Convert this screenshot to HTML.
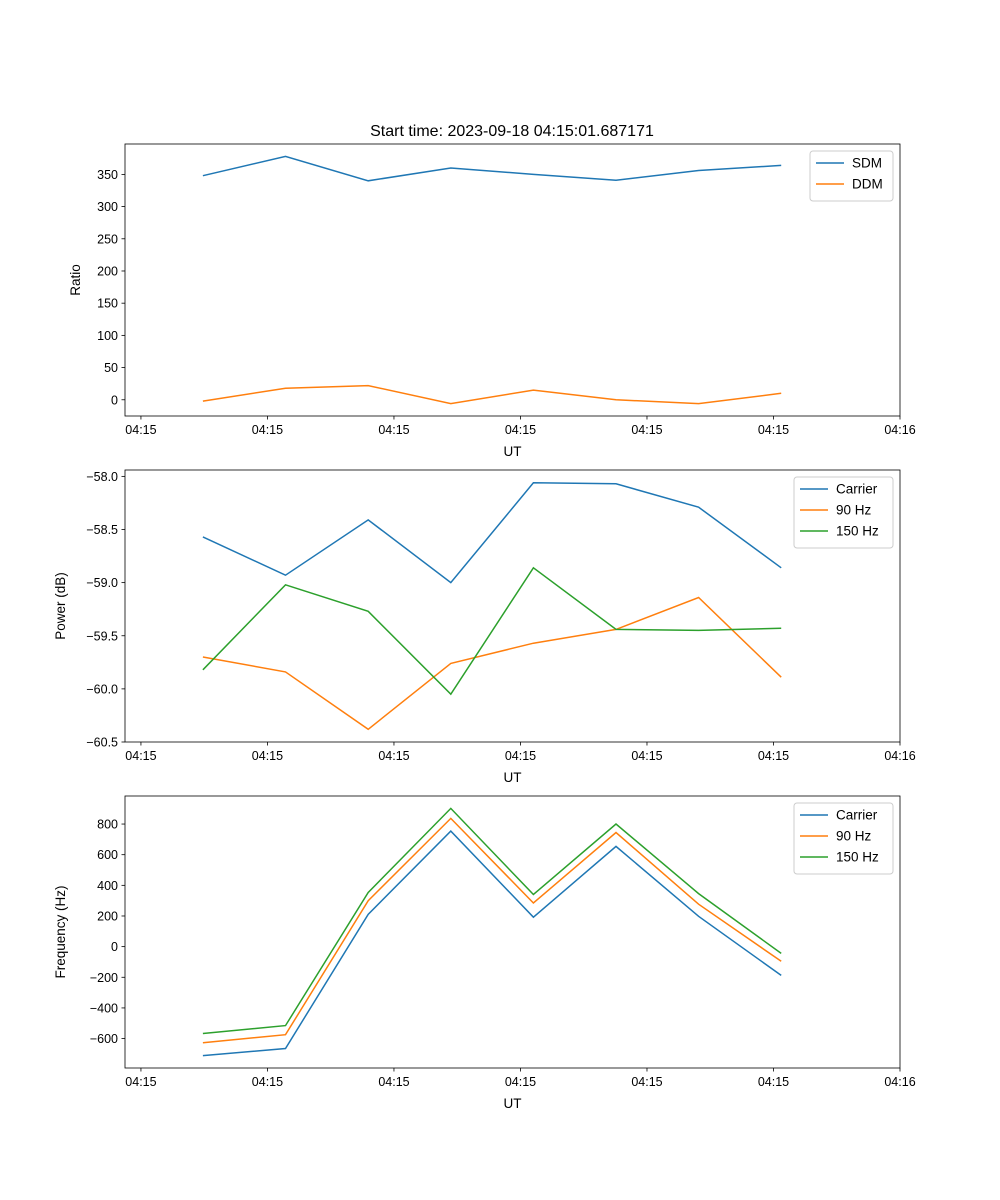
<!DOCTYPE html>
<html><head><meta charset="utf-8"><style>
body{margin:0;background:#fff;}
svg{display:block;font-family:"Liberation Sans","DejaVu Sans",sans-serif;}
</style></head><body>
<svg id="fig" width="1000" height="1200" viewBox="0 0 1000 1200" xmlns="http://www.w3.org/2000/svg">
<rect width="1000" height="1200" fill="#fff"/>
<text x="512" y="136" font-size="16" text-anchor="middle">Start time: 2023-09-18 04:15:01.687171</text>
</svg>
<script>
// shared x data (seconds after 04:15:00)
const times = [4.9, 11.43, 17.96, 24.49, 31.02, 37.55, 44.08, 50.61];
const xTicks = [0, 10, 20, 30, 40, 50, 60];
const xTickLabels = ["04:15","04:15","04:15","04:15","04:15","04:15","04:16"];
// panel 1
const sdm = [348, 378, 340, 360, 350, 341, 356, 364];
const ddm = [-2, 18, 22, -6, 15, 0, -6, 10];
const ratioTicks = [0, 50, 100, 150, 200, 250, 300, 350];
// panel 2
const powCarrier = [-58.57, -58.93, -58.41, -59.0, -58.06, -58.07, -58.29, -58.86];
const pow90 = [-59.70, -59.84, -60.38, -59.76, -59.57, -59.44, -59.14, -59.89];
const pow150 = [-59.82, -59.02, -59.27, -60.05, -58.86, -59.44, -59.45, -59.43];
const powTicks = [-58.0, -58.5, -59.0, -59.5, -60.0, -60.5];
const powTickLabels = ["\u221258.0","\u221258.5","\u221259.0","\u221259.5","\u221260.0","\u221260.5"];
// panel 3
const freqCarrier = [-711, -665, 211, 754, 192, 654, 198, -188];
const freq90 = [-627, -575, 300, 837, 285, 745, 277, -96];
const freq150 = [-567, -515, 353, 902, 340, 800, 346, -44];
const freqTicks = [-600, -400, -200, 0, 200, 400, 600, 800];
const freqTickLabels = ["\u2212600","\u2212400","\u2212200","0","200","400","600","800"];

const NS = "http://www.w3.org/2000/svg";
const svg = document.getElementById('fig');
function mk(tag, attrs, parent){const e=document.createElementNS(NS,tag);for(const k in attrs)e.setAttribute(k,attrs[k]);(parent||svg).appendChild(e);return e;}
const L=125,R=900,xMin=-1.26,xMax=60;
function X(t){return L+(t-xMin)/(xMax-xMin)*(R-L);}

function panel(name, top, bottom, yMin, yMax, yTicks, yLabels, yTitle, series, legendW){
  const g=mk('g',{});
  
  
  const Y=v=>bottom-(v-yMin)/(yMax-yMin)*(bottom-top);
  series.forEach(s=>{
    const pts=s.vals.map((v,i)=>X(times[i]).toFixed(1)+','+Y(v).toFixed(1)).join(' ');
    const pl=mk('polyline',{points:pts,fill:'none',stroke:s.color,'stroke-width':1.5},g);
    
    
  });
  mk('rect',{x:L,y:top,width:R-L,height:bottom-top,fill:'none',stroke:'#000','stroke-width':0.8},g);
  xTicks.forEach((t,i)=>{
    const x=X(t);
    mk('line',{x1:x,y1:bottom,x2:x,y2:bottom+3.5,stroke:'#000','stroke-width':0.8},g);
    const tx=mk('text',{x:x,y:bottom+18,'font-size':12.5,'text-anchor':'middle'},g);
    tx.textContent=xTickLabels[i];
    
    
  });
  const xt=mk('text',{x:(L+R)/2,y:bottom+40,'font-size':13.5,'text-anchor':'middle'},g);
  xt.textContent='UT';
  
  
  yTicks.forEach((v,i)=>{
    const y=Y(v);
    mk('line',{x1:L-3.5,y1:y,x2:L,y2:y,stroke:'#000','stroke-width':0.8},g);
    const tx=mk('text',{x:L-7,y:y+4.5,'font-size':12.5,'text-anchor':'end'},g);
    tx.textContent=yLabels[i];
    
    
  });
  const yx = name==='ratio'?80:65;
  const yt=mk('text',{x:yx,y:(top+bottom)/2,'font-size':13.5,'text-anchor':'middle',transform:`rotate(-90 ${yx} ${(top+bottom)/2})`},g);
  yt.textContent=yTitle;
  
  
  // legend
  const lw=legendW, lh=8+series.length*21, lx=R-7-lw, ly=top+7;
  const lg=mk('g',{},g);
  
  
  mk('rect',{x:lx,y:ly,width:lw,height:lh,rx:3,fill:'#fff','fill-opacity':0.8,stroke:'#ccc','stroke-width':1},lg);
  series.forEach((s,i)=>{
    const cy=ly+12+i*21;
    mk('line',{x1:lx+6,y1:cy,x2:lx+34,y2:cy,stroke:s.color,'stroke-width':1.5},lg);
    const tx=mk('text',{x:lx+42,y:cy+4.5,'font-size':13.5},lg);
    tx.textContent=s.label;
    
    
  });
}
const C1='#1f77b4',C2='#ff7f0e',C3='#2ca02c';
panel('ratio',144,416,-25.2,397.2,ratioTicks,ratioTicks.map(String),'Ratio',
  [{key:'sdm',label:'SDM',vals:sdm,color:C1},{key:'ddm',label:'DDM',vals:ddm,color:C2}],83);
panel('power',470,742,-60.5,-57.94,powTicks,powTickLabels,'Power (dB)',
  [{key:'carrier',label:'Carrier',vals:powCarrier,color:C1},{key:'90hz',label:'90 Hz',vals:pow90,color:C2},{key:'150hz',label:'150 Hz',vals:pow150,color:C3}],99);
panel('frequency',796,1068,-792,983,freqTicks,freqTickLabels,'Frequency (Hz)',
  [{key:'carrier',label:'Carrier',vals:freqCarrier,color:C1},{key:'90hz',label:'90 Hz',vals:freq90,color:C2},{key:'150hz',label:'150 Hz',vals:freq150,color:C3}],99);
</script>
</body></html>
